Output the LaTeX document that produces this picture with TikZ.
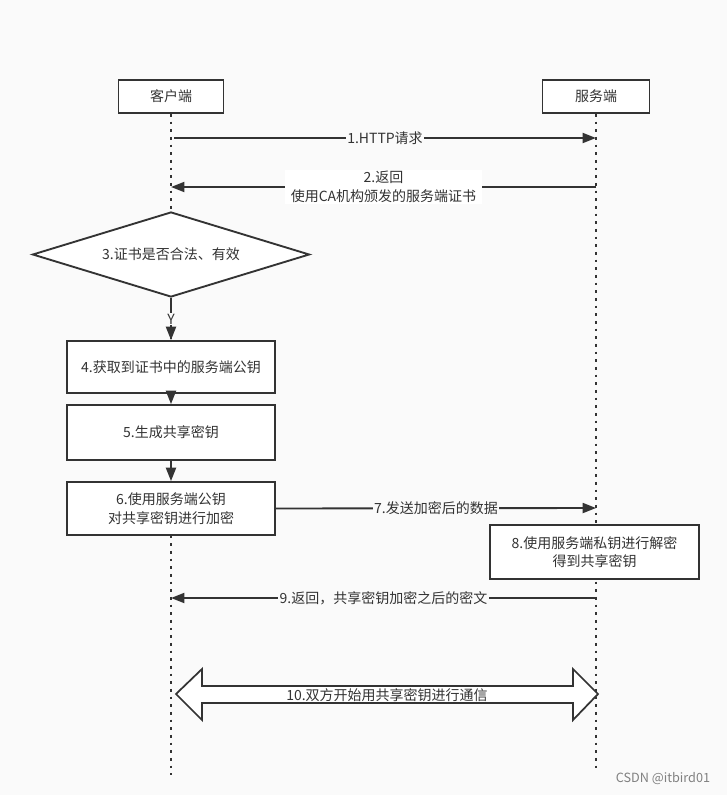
\documentclass[tikz,border=0pt]{standalone}
\usepackage{fontspec}
\setmainfont{Noto Sans CJK SC}
\usetikzlibrary{arrows.meta,shapes.geometric}
\definecolor{ink}{RGB}{51,51,51}
\definecolor{paper}{RGB}{250,250,250}

\begin{document}
\begin{tikzpicture}[x=0.75pt,y=-0.75pt]
	\tikzset{every node/.style={font=\fontsize{10.5}{14}\selectfont,text=ink}}
	\tikzset{actor/.style={draw=ink,line width=1.4pt,fill=white,minimum height=24.75pt}}
	\tikzset{stepbox/.style={draw=ink,line width=1.4pt,fill=white,align=center,minimum width=156pt}}
	\tikzset{lifeline/.style={draw=ink,line width=1.8pt,dash pattern=on 2pt off 3.75pt}}
	\tikzset{msg/.style={draw=ink,line width=1.4pt,-{Triangle[length=10pt,width=7.5pt]}}}
	\tikzset{lbl/.style={fill=white,inner sep=1pt,align=center}}
	\fill[paper] (0,0) rectangle (727,795);
	% actors and lifelines
	\node[actor,minimum width=78.75pt] (client) at (171,96.5) {客户端};
	\node[actor,minimum width=80.25pt] (server) at (596,96.5) {服务端};
	\coordinate (clientEnd) at (171,775);
	\coordinate (serverEnd) at (596,770);
	\draw[lifeline] (client.south) -- (clientEnd);
	\draw[lifeline] (server.south) -- (serverEnd);
	\coordinate (c1) at (174,138);
	\coordinate (s1) at (596,138);
	\coordinate (c2) at (171,187);
	\coordinate (s2) at (596,187);
	\coordinate (s7) at (596,508);
	\coordinate (c9) at (171,598);
	\coordinate (s9) at (596,598);
	\draw[msg] (c1) -- node[lbl,fill=paper]{1.HTTP请求} (s1);
	\draw[msg] (s2) -- node[lbl,inner xsep=4pt]{2.返回\\使用CA机构颁发的服务端证书} (c2);
	% client side steps
	\node[diamond,draw=ink,line width=1.4pt,fill=white,aspect=3.26,inner sep=1pt,
		minimum width=207.75pt,minimum height=63.75pt] (check) at (171,254.5) {3.证书是否合法、有效};
	\node[stepbox,minimum height=39pt] (get) at (171,367) {4.获取到证书中的服务端公钥};
	\node[stepbox,minimum height=41.25pt] (gen) at (171,432.5) {5.生成共享密钥};
	\node[stepbox,minimum height=39.75pt] (encrypt) at (171,508.5) {6.使用服务端公钥\\对共享密钥进行加密};
	\draw[msg] (check.south) -- node[lbl,fill=paper]{Y} (get.north);
	\draw[msg] (get) -- (gen);
	\draw[msg] (gen) -- (encrypt);
	\draw[msg] (encrypt.east) -- node[lbl,fill=paper]{7.发送加密后的数据} (s7);
	\node[stepbox,minimum width=156.75pt,minimum height=40.5pt] (decrypt) at (594.5,552) {8.使用服务端私钥进行解密\\得到共享密钥};
	\draw[msg] (s9) -- node[lbl,fill=paper]{9.返回，共享密钥加密之后的密文} (c9);
	% two-way channel
	\draw[ink,line width=1.3pt,fill=white] (176,694) -- (202,669) -- (202,686) -- (573,686) -- (573,669)
		-- (598,694) -- (573,720) -- (573,703) -- (202,703) -- (202,720) -- cycle;
	\node (talk) at (387,695.5) {10.双方开始用共享密钥进行通信};
	\node[font=\fontsize{9.5}{11}\selectfont,text={rgb,255:red,128;green,128;blue,128}] (mark) at (663,779) {CSDN @itbird01};
\end{tikzpicture}
\end{document}
